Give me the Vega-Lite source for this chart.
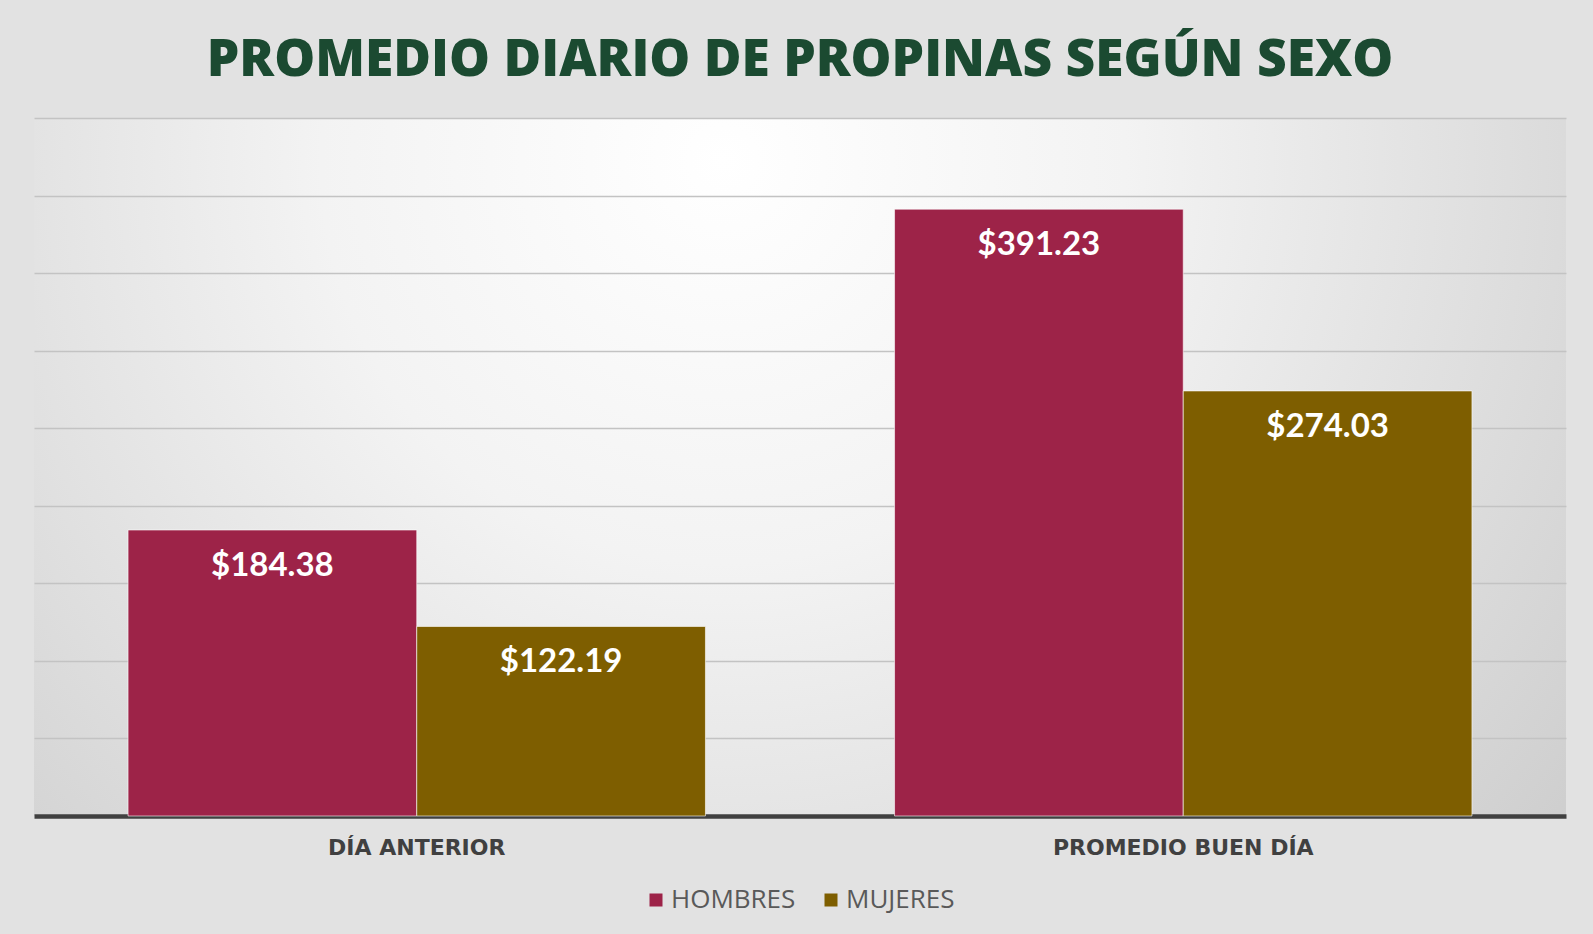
{
  "$schema": "https://vega.github.io/schema/vega-lite/v6.json",
  "autosize": {"type": "none"},
  "width": 1532,
  "height": 698,
  "padding": {"top": 118, "left": 34, "right": 27, "bottom": 118},
  "background": "#e2e2e2",
  "title": {
    "text": "PROMEDIO DIARIO DE PROPINAS SEGÚN SEXO",
    "font": "Open Sans",
    "fontSize": 51.5,
    "fontWeight": 800,
    "color": "#1B4A31",
    "anchor": "middle",
    "baseline": "alphabetic",
    "offset": -9
  },
  "data": {
    "values": [
      {"periodo": "DÍA ANTERIOR", "sexo": "HOMBRES", "valor": 184.38},
      {"periodo": "DÍA ANTERIOR", "sexo": "MUJERES", "valor": 122.19},
      {"periodo": "PROMEDIO BUEN DÍA", "sexo": "HOMBRES", "valor": 391.23},
      {"periodo": "PROMEDIO BUEN DÍA", "sexo": "MUJERES", "valor": 274.03}
    ]
  },
  "encoding": {
    "x": {
      "field": "periodo",
      "type": "nominal",
      "sort": ["DÍA ANTERIOR", "PROMEDIO BUEN DÍA"],
      "scale": {"paddingInner": 0.2467, "paddingOuter": 0.1227},
      "axis": {
        "title": null,
        "labelAngle": 0,
        "labelFont": "DejaVu Sans",
        "labelFontWeight": 700,
        "labelFontSize": 22,
        "labelColor": "#404040",
        "labelBaseline": "alphabetic",
        "labelPadding": 38,
        "labelLimit": 0,
        "ticks": false,
        "tickSize": 0,
        "domainColor": "#404040",
        "domainWidth": 4.5,
        "grid": false
      }
    },
    "xOffset": {
      "field": "sexo",
      "type": "nominal",
      "sort": ["HOMBRES", "MUJERES"],
      "scale": {"paddingInner": 0, "paddingOuter": 0}
    },
    "y": {
      "field": "valor",
      "type": "quantitative",
      "scale": {"domain": [0, 450], "nice": false},
      "axis": {
        "title": null,
        "labels": false,
        "ticks": false,
        "domain": false,
        "grid": true,
        "gridColor": "#c3c3c3",
        "gridWidth": 1.5,
        "values": [50, 100, 150, 200, 250, 300, 350, 400, 450]
      }
    }
  },
  "layer": [
    {
      "mark": {"type": "bar", "stroke": "#ffffff", "strokeWidth": 1, "strokeOpacity": 0.6},
      "encoding": {
        "color": {
          "field": "sexo",
          "type": "nominal",
          "sort": ["HOMBRES", "MUJERES"],
          "scale": {"range": ["#9D2348", "#7E5E00"]},
          "legend": {
            "title": null,
            "orient": "none",
            "legendX": 609,
            "legendY": 769,
            "direction": "horizontal",
            "symbolType": "square",
            "symbolSize": 169,
            "symbolStrokeWidth": 0,
            "labelFont": "Open Sans",
            "labelFontSize": 26,
            "labelColor": "#595959",
            "labelOffset": 2,
            "columnPadding": 22
          }
        }
      }
    },
    {
      "mark": {
        "type": "text",
        "font": "Lato",
        "fontWeight": 700,
        "fontSize": 33,
        "color": "#ffffff",
        "baseline": "alphabetic",
        "dy": 46
      },
      "encoding": {
        "text": {"field": "valor", "type": "quantitative", "format": "$.2f"}
      }
    }
  ],
  "config": {
    "view": {
      "stroke": null,
      "fill": {
        "gradient": "radial",
        "x1": 0.45, "y1": 0.3, "r1": 0,
        "x2": 0.45, "y2": 0.3, "r2": 0.75,
        "stops": [
          {"offset": 0, "color": "#ffffff"},
          {"offset": 0.35, "color": "#f3f3f3"},
          {"offset": 1, "color": "#cacaca"}
        ]
      }
    }
  }
}
